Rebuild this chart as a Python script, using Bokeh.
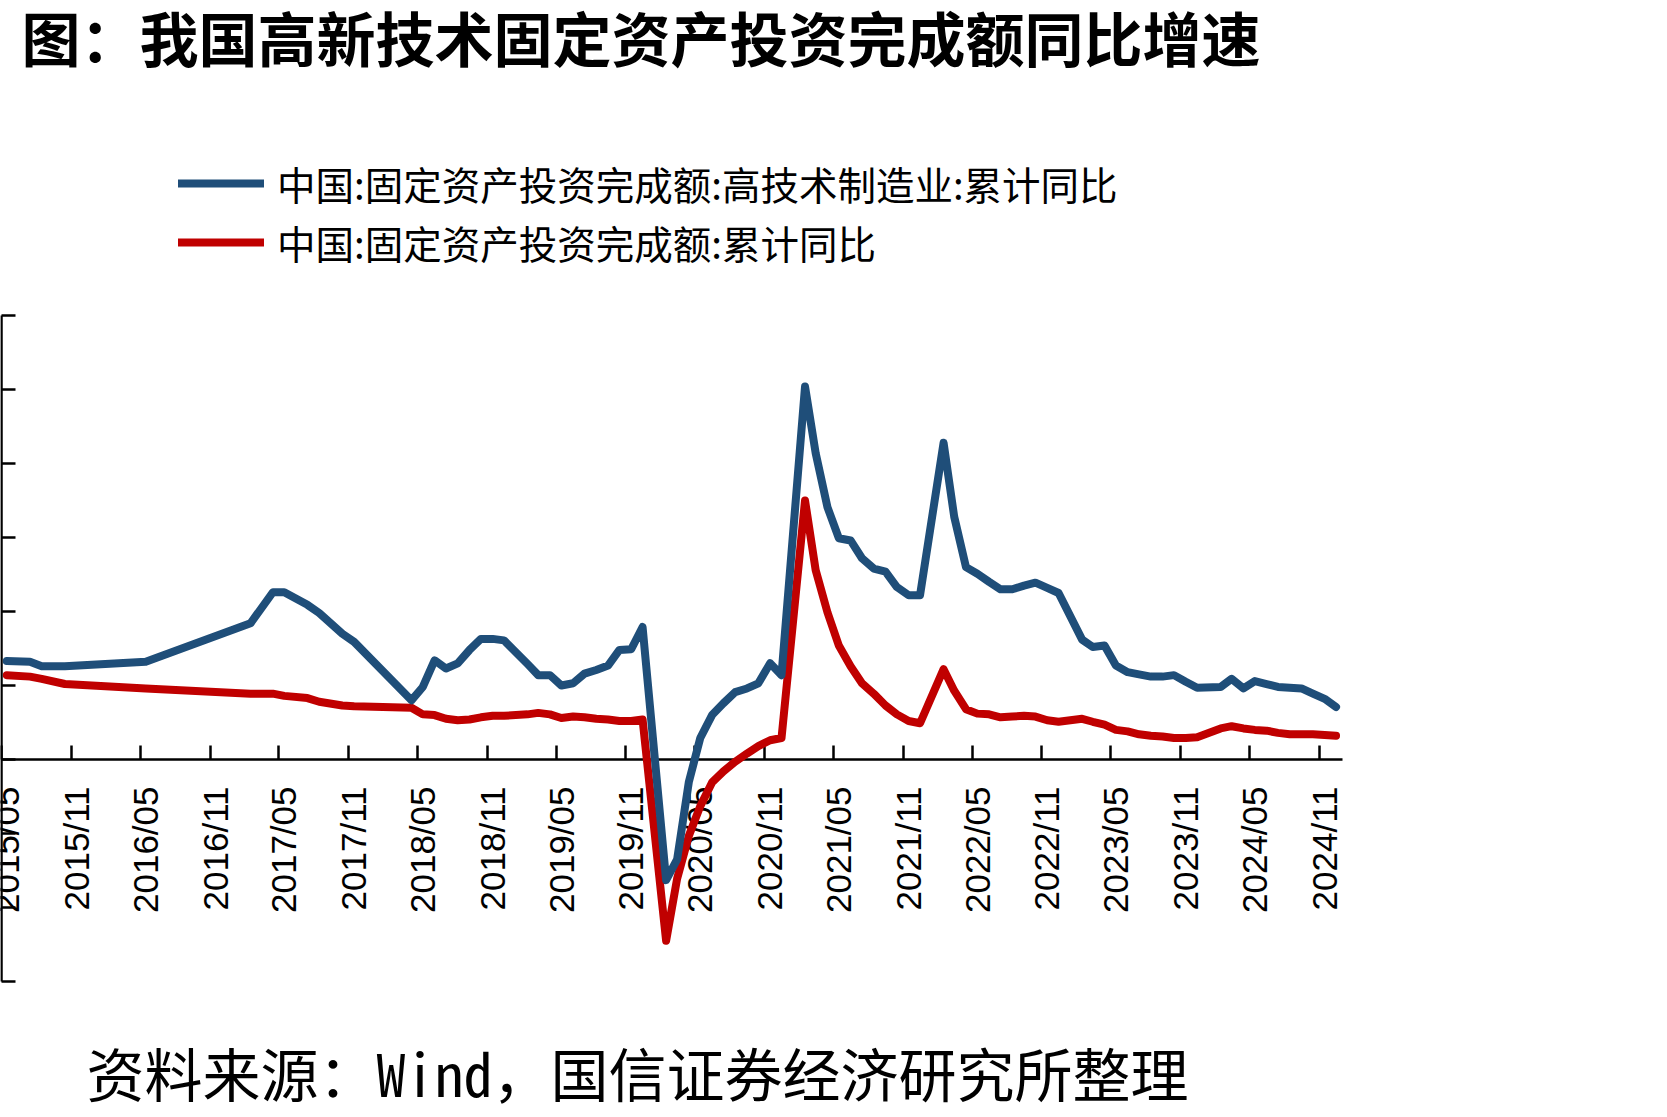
import math
import pandas as pd
from bokeh.plotting import figure
from bokeh.core.properties import value
from bokeh.models import (Range1d, FixedTicker, DatetimeAxis, LinearAxis,
                          CustomJSTickFormatter, Legend, LegendItem, Label)
from bokeh.embed import file_html
from bokeh.resources import INLINE

# Reporting months (cumulative year-to-date figures; January is not published)
MONTHS = [
    "2015-05", "2015-07", "2015-08", "2015-10", "2016-05", "2017-02", "2017-04", "2017-05",
    "2017-07", "2017-08", "2017-10", "2017-11",
    "2018-04", "2018-05", "2018-06", "2018-07", "2018-08", "2018-09", "2018-10", "2018-11", "2018-12",
    "2019-02", "2019-03", "2019-04", "2019-05", "2019-06", "2019-07", "2019-08", "2019-09", "2019-10", "2019-11", "2019-12",
    "2020-02", "2020-03", "2020-04", "2020-05", "2020-06", "2020-07", "2020-08", "2020-09", "2020-10", "2020-11", "2020-12",
    "2021-02", "2021-03", "2021-04", "2021-05", "2021-06", "2021-07", "2021-08", "2021-09", "2021-10", "2021-11", "2021-12",
    "2022-02", "2022-03", "2022-04", "2022-05", "2022-06", "2022-07", "2022-08", "2022-09", "2022-10", "2022-11", "2022-12",
    "2023-02", "2023-03", "2023-04", "2023-05", "2023-06", "2023-07", "2023-08", "2023-09", "2023-10", "2023-11", "2023-12",
    "2024-02", "2024-03", "2024-04", "2024-05", "2024-06", "2024-07", "2024-08", "2024-09", "2024-10", "2024-11", "2024-12",
]

# High-tech manufacturing fixed-asset investment, cumulative YoY (%)
HIGH_TECH = [
    13.3, 13.2, 12.6, 12.6, 13.2, 18.4, 22.6, 22.6,
    20.9, 19.8, 17.0, 15.9,
    8.0, 9.8, 13.4, 12.3, 13.0, 14.8, 16.3, 16.3, 16.1,
    12.9, 11.4, 11.4, 10.0, 10.3, 11.6, 12.1, 12.7, 14.8, 14.9, 17.9,
    -16.3, -13.5, -3.0, 2.9, 6.0, 7.6, 9.1, 9.6, 10.3, 13.0, 11.4,
    50.4, 41.4, 34.1, 29.9, 29.6, 27.2, 25.8, 25.4, 23.3, 22.2, 22.2,
    42.8, 32.8, 26.0, 25.1, 24.0, 23.0, 23.0, 23.5, 23.9, 23.2, 22.5,
    16.2, 15.2, 15.4, 12.7, 11.8, 11.5, 11.2, 11.2, 11.4, 10.5, 9.7,
    9.8, 10.9, 9.6, 10.6, 10.2, 9.8, 9.7, 9.6, 8.9, 8.2, 7.1,
]

# Total fixed-asset investment, cumulative YoY (%)
TOTAL = [
    11.4, 11.2, 10.9, 10.2, 9.6, 8.9, 8.9, 8.6,
    8.3, 7.8, 7.3, 7.2,
    7.0, 6.1, 6.0, 5.5, 5.3, 5.4, 5.7, 5.9, 5.9,
    6.1, 6.3, 6.1, 5.6, 5.8, 5.7, 5.5, 5.4, 5.2, 5.2, 5.4,
    -24.5, -16.1, -10.3, -6.3, -3.1, -1.6, -0.3, 0.8, 1.8, 2.6, 2.9,
    35.0, 25.6, 19.9, 15.4, 12.6, 10.3, 8.9, 7.3, 6.1, 5.2, 4.9,
    12.2, 9.3, 6.8, 6.2, 6.1, 5.7, 5.8, 5.9, 5.8, 5.3, 5.1,
    5.5, 5.1, 4.7, 4.0, 3.8, 3.4, 3.2, 3.1, 2.9, 2.9, 3.0,
    4.2, 4.5, 4.2, 4.0, 3.9, 3.6, 3.4, 3.4, 3.4, 3.3, 3.2,
]

TICK_LABELS = [
    "2015/05", "2015/11", "2016/05", "2016/11", "2017/05", "2017/11", "2018/05", "2018/11",
    "2019/05", "2019/11", "2020/05", "2020/11", "2021/05", "2021/11", "2022/05", "2022/11",
    "2023/05", "2023/11", "2024/05", "2024/11",
]
Y_TICKS = [-30, -20, -10, 0, 10, 20, 30, 40, 50, 60]
X_START, X_END = "2015-05-01", "2025-01-01"
Y_MIN, Y_MAX = -30, 60

TITLE = "图：我国高新技术固定资产投资完成额同比增速"
NAME_HIGH_TECH = "中国:固定资产投资完成额:高技术制造业:累计同比"
NAME_TOTAL = "中国:固定资产投资完成额:累计同比"
SOURCE = "资料来源：Wind，国信证券经济研究所整理"

BLUE = "#1F4E79"
RED = "#C00000"
CJK = "Noto Sans CJK SC"

W, H = 1667, 1117
# plotting box inside the canvas (pixels from the top-left corner)
BOX_LEFT, BOX_RIGHT, BOX_TOP, BOX_BOTTOM = 1, 1342, 315, 981

x = pd.to_datetime([m + "-15" for m in MONTHS])
tick_x = pd.to_datetime([t.replace("/", "-") + "-01" for t in TICK_LABELS])
tick_ms = [t.timestamp() * 1000 for t in tick_x]
x0 = pd.Timestamp(X_START).timestamp() * 1000
x1 = pd.Timestamp(X_END).timestamp() * 1000

# the frame fills the canvas; ranges are widened so the data box sits where wanted
ms_per_px = (x1 - x0) / (BOX_RIGHT - BOX_LEFT)
units_per_px = (Y_MAX - Y_MIN) / (BOX_BOTTOM - BOX_TOP)
x_range = Range1d(x0 - BOX_LEFT * ms_per_px, x1 + (W - BOX_RIGHT) * ms_per_px)
y_range = Range1d(Y_MIN - (H - BOX_BOTTOM) * units_per_px, Y_MAX + BOX_TOP * units_per_px)

p = figure(
    width=W, height=H, x_range=x_range, y_range=y_range,
    x_axis_type=None, y_axis_type=None,
    output_backend="svg", toolbar_location=None,
    min_border=0, min_border_left=0, min_border_right=0, min_border_top=0, min_border_bottom=0,
)
p.outline_line_color = None
p.background_fill_color = "white"
p.border_fill_color = "white"

no_labels = CustomJSTickFormatter(code="return ''")

# y axis: ticks only, pointing inward
yaxis = LinearAxis(
    fixed_location=x0, bounds=(Y_MIN, Y_MAX),
    ticker=FixedTicker(ticks=Y_TICKS), formatter=no_labels,
    major_tick_in=14, major_tick_out=0, minor_tick_line_color=None,
    axis_line_width=2.5, major_tick_line_width=2.5, major_label_standoff=0,
    axis_line_color="black", major_tick_line_color="black",
)
p.add_layout(yaxis, "left")

# x axis pinned to the zero line, ticks pointing up
xaxis = DatetimeAxis(
    fixed_location=0, bounds=(x0, x1),
    ticker=FixedTicker(ticks=tick_ms), formatter=no_labels,
    major_tick_in=14, major_tick_out=0, minor_tick_line_color=None,
    axis_line_width=2.5, major_tick_line_width=2.5, major_label_standoff=0,
    axis_line_color="black", major_tick_line_color="black",
    level="underlay",
)
p.add_layout(xaxis, "below")

# vertical date labels hanging under the zero line
p.text(
    x=tick_x, y=[0] * len(TICK_LABELS), text=TICK_LABELS,
    angle=math.pi / 2, x_offset=5, y_offset=27,
    text_align="right", text_baseline="middle",
    text_font=value("Liberation Sans"), text_font_size="35px", text_color="black",
)

r_total = p.line(x, TOTAL, line_color=RED, line_width=8, line_join="round", line_cap="round")
r_high = p.line(x, HIGH_TECH, line_color=BLUE, line_width=8, line_join="round", line_cap="round")

legend = Legend(
    items=[LegendItem(label=NAME_HIGH_TECH, renderers=[r_high]),
           LegendItem(label=NAME_TOTAL, renderers=[r_total])],
    location=(178, H - 270), orientation="vertical",
    glyph_width=86, glyph_height=38, label_height=38, label_standoff=13, spacing=3,
    padding=0, margin=0, border_line_color=None, background_fill_alpha=0,
    label_text_font=CJK, label_text_font_size="38.5px", label_text_color="black",
)
p.add_layout(legend)

p.add_layout(Label(
    x=21, y=H - 36, x_units="screen", y_units="screen", text=TITLE,
    text_font=CJK, text_font_size="59px", text_font_style="bold", text_color="black",
    text_baseline="alphabetic",
))
p.add_layout(Label(
    x=86, y=H - 1071, x_units="screen", y_units="screen", text=SOURCE,
    text_font="Noto Sans Mono CJK SC, Noto Sans CJK SC", text_font_size="58px",
    text_color="black", text_baseline="alphabetic",
))

open("out.html", "w").write(file_html(p, INLINE))
